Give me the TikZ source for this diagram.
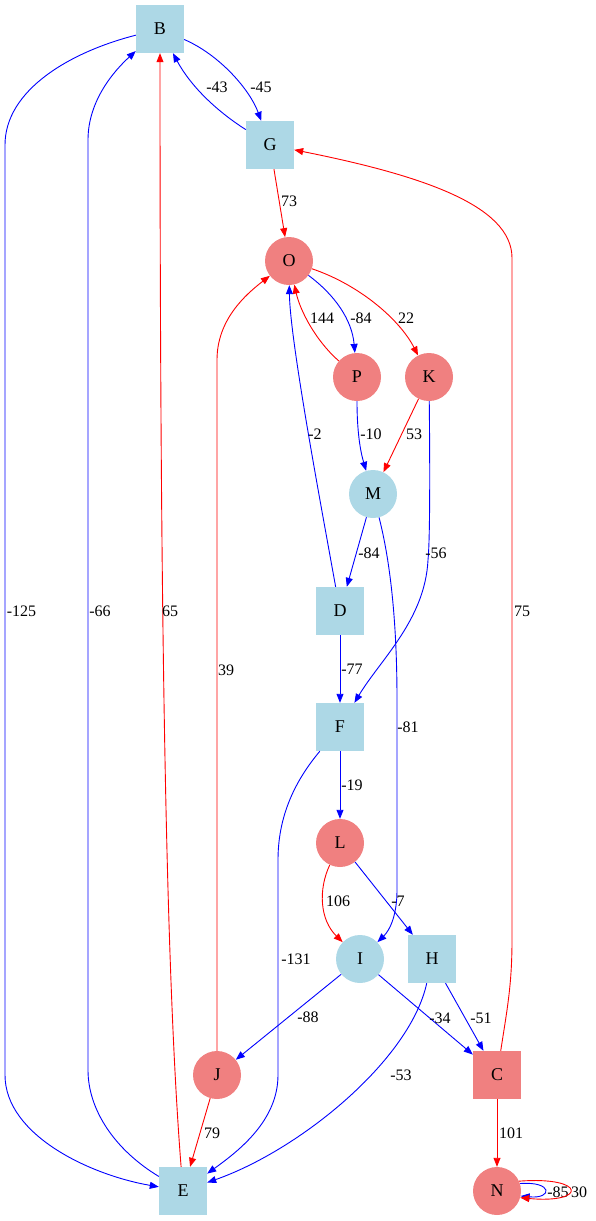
\documentclass[tikz,border=0pt]{standalone}
\usepackage{fontspec}
\setmainfont{Liberation Serif}
\usetikzlibrary{arrows.meta}
\definecolor{lightblue}{RGB}{173,216,230}
\definecolor{lightcoral}{RGB}{240,128,128}

\begin{document}
\begin{tikzpicture}[x=1pt,y=-1pt,
  >={Triangle[length=9pt,width=7pt]},
  vtx/.style={inner sep=0pt,minimum size=48pt,font=\fontsize{18}{20}\selectfont},
  box/.style={vtx,rectangle}, disc/.style={vtx,circle},
  cold/.style={fill=lightblue}, hot/.style={fill=lightcoral},
  posedge/.style={->,red,line width=.9pt}, negedge/.style={->,blue,line width=.9pt},
  lbl/.style={inner sep=0pt,text=black,font=\fontsize{16}{18}\selectfont}]
\useasboundingbox (0,0) rectangle (595,1221);
\node[box,cold] (B) at (160,29) {B};
\node[box,cold] (G) at (270,145) {G};
\node[disc,hot] (O) at (289,261) {O};
\node[disc,hot] (P) at (357,377) {P};
\node[disc,hot] (K) at (429,377) {K};
\node[disc,cold] (M) at (373,494) {M};
\node[box,cold] (D) at (340,611) {D};
\node[box,cold] (F) at (340,727) {F};
\node[disc,hot] (L) at (340,843) {L};
\node[disc,cold] (I) at (360,959) {I};
\node[box,cold] (H) at (432,959) {H};
\node[disc,hot] (J) at (217,1075) {J};
\node[box,hot] (C) at (497,1075) {C};
\node[box,cold] (E) at (183,1191) {E};
\node[disc,hot] (N) at (497,1191) {N};
\draw[negedge] (B) .. controls (70,52) and (5,90) .. (5,145) -- (5,1075) .. controls (5,1135) and (90,1175) .. (E) node[lbl] at (21.5,611) {-125};
\draw[negedge] (E) .. controls (115,1150) and (88,1110) .. (88,1070) -- (88,140) .. controls (88,100) and (115,70) .. (B) node[lbl] at (100,611) {-66};
\draw[posedge] (E) .. controls (168,1000) and (160,700) .. (B) node[lbl] at (170,611) {65};
\draw[negedge] (B) .. controls (220,55) and (250,90) .. (G) node[lbl] at (261,87) {-45};
\draw[negedge] (G) .. controls (215,110) and (190,85) .. (B) node[lbl] at (217,87) {-43};
\draw[posedge] (G) -- (O) node[lbl] at (289,201) {73};
\draw[posedge] (C) .. controls (507,1010) and (512,985) .. (512,940) -- (512,258) .. controls (512,205) and (420,175) .. (G) node[lbl] at (522,611) {75};
\draw[negedge] (O) .. controls (335,295) and (352,320) .. (P) node[lbl] at (361,318) {-84};
\draw[posedge] (P) .. controls (315,340) and (300,310) .. (O) node[lbl] at (322,318) {144};
\draw[posedge] (O) .. controls (360,285) and (400,320) .. (K) node[lbl] at (406,318) {22};
\draw[posedge] (J) -- (217,360) .. controls (217,320) and (245,295) .. (O) node[lbl] at (226,670) {39};
\draw[negedge] (D) .. controls (320,500) and (290,340) .. (O) node[lbl] at (315,434) {-2};
\draw[negedge] (P) .. controls (357,430) and (360,450) .. (M) node[lbl] at (371,434) {-10};
\draw[posedge] (K) -- (M) node[lbl] at (414,434) {53};
\draw[negedge] (K) .. controls (430,470) and (430,540) .. (428,560) .. controls (425,620) and (380,660) .. (F) node[lbl] at (436,553) {-56};
\draw[negedge] (M) -- (D) node[lbl] at (369,553) {-84};
\draw[negedge] (M) .. controls (390,560) and (397,620) .. (397,700) -- (397,890) .. controls (397,915) and (390,930) .. (I) node[lbl] at (408,727) {-81};
\draw[negedge] (D) -- (F) node[lbl] at (352,669) {-77};
\draw[negedge] (F) -- (L) node[lbl] at (352,785) {-19};
\draw[negedge] (F) .. controls (300,775) and (278,810) .. (278,860) -- (278,1075) .. controls (278,1120) and (240,1150) .. (E) node[lbl] at (296,959) {-131};
\draw[posedge] (L) .. controls (318,890) and (320,920) .. (I) node[lbl] at (338,901) {106};
\draw[negedge] (L) -- (H) node[lbl] at (398,901) {-7};
\draw[negedge] (I) -- (J) node[lbl] at (308,1017) {-88};
\draw[negedge] (I) -- (C) node[lbl] at (440,1018) {-34};
\draw[negedge] (H) -- (C) node[lbl] at (481,1018) {-51};
\draw[negedge] (H) .. controls (410,1060) and (300,1150) .. (E) node[lbl] at (401,1075) {-53};
\draw[posedge] (J) -- (E) node[lbl] at (212,1133) {79};
\draw[posedge] (C) -- (N) node[lbl] at (511,1133) {101};
\draw[negedge] (N.18) .. controls (553,1181) and (553,1199) .. (N.-12) node[lbl] at (558,1192) {-85};
\draw[posedge] (N.24) .. controls (587,1176) and (587,1204) .. (N.-16) node[lbl] at (579,1192) {30};
\end{tikzpicture}
\end{document}
